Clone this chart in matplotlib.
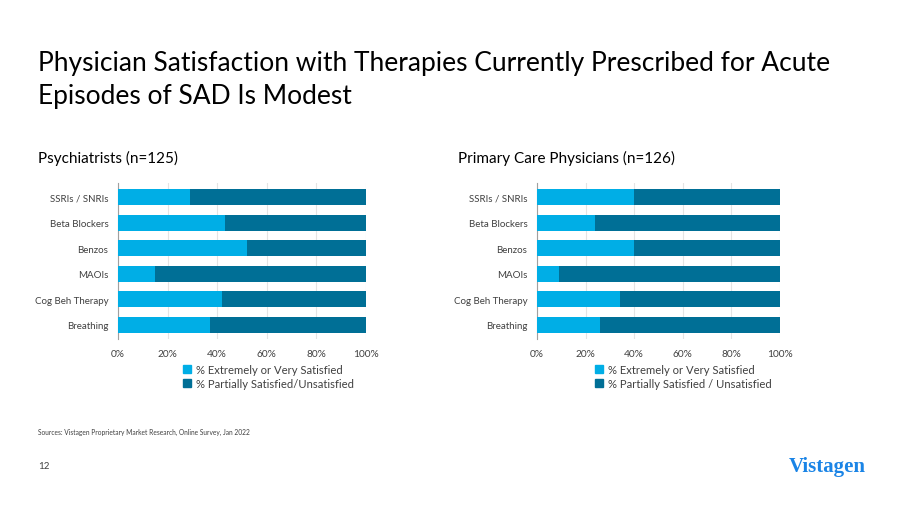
import numpy as np
import matplotlib
matplotlib.use("Agg")
import matplotlib.pyplot as plt
from matplotlib.patches import Patch

plt.rcParams['font.family'] = ['Lato', 'DejaVu Sans']

categories = ["SSRIs / SNRIs", "Beta Blockers", "Benzos", "MAOIs", "Cog Beh Therapy", "Breathing"]
psych_satisfied = [29, 43, 52, 15, 42, 37]
pcp_satisfied = [40, 24, 40, 9, 34, 26]
psych_partial = [100 - v for v in psych_satisfied]
pcp_partial = [100 - v for v in pcp_satisfied]
xticks = [0, 20, 40, 60, 80, 100]

light = '#00aee6'
dark = '#006f96'
W, H = 900, 506

fig = plt.figure(figsize=(9, 5.06), dpi=100)
fig.patch.set_facecolor('white')


def px_axes(x0, y0, x1, y1):
    # pixel box (top-left origin) -> figure fraction
    return fig.add_axes([x0 / W, 1 - y1 / H, (x1 - x0) / W, (y1 - y0) / H])


def draw(ax, sat, part, leg_labels, leg_x):
    y = np.arange(len(categories))
    ax.barh(y, sat, height=0.62, color=light, zorder=3)
    ax.barh(y, part, left=sat, height=0.62, color=dark, zorder=3)
    ax.set_yticks(y)
    ax.set_yticklabels(categories, fontsize=7, color='#404040')
    ax.set_ylim(len(categories) - 0.5 + 0.05, -0.5 - 0.05)
    ax.set_xlim(0, 100)
    ax.set_xticks(xticks)
    ax.set_xticklabels([f"{t}%" for t in xticks], fontsize=7.3, color='#404040')
    ax.grid(axis='x', color='#e4e4e4', linewidth=0.8, zorder=0)
    for s in ['top', 'right', 'bottom']:
        ax.spines[s].set_visible(False)
    ax.spines['left'].set_color('#a0a0a0')
    ax.tick_params(length=0, pad=7)
    handles = [Patch(color=light), Patch(color=dark)]
    fig.legend(handles, leg_labels, loc='upper left',
               bbox_to_anchor=(leg_x / W, 1 - 357 / H), frameon=False,
               fontsize=8.1, handlelength=0.75, handleheight=0.75,
               handletextpad=0.45, labelspacing=0.3, labelcolor='#404040',
               borderpad=0.2)


ax1 = px_axes(118, 184, 366, 340)
draw(ax1, psych_satisfied, psych_partial,
     ["% Extremely or Very Satisfied", "% Partially Satisfied/Unsatisfied"], 175)

ax2 = px_axes(537, 184, 780, 340)
draw(ax2, pcp_satisfied, pcp_partial,
     ["% Extremely or Very Satisfied", "% Partially Satisfied / Unsatisfied"], 587)

fig.text(38 / W, 1 - 51 / H,
         "Physician Satisfaction with Therapies Currently Prescribed for Acute\nEpisodes of SAD Is Modest",
         fontsize=19, va='top', ha='left', color='black', linespacing=1.38)
fig.text(38 / W, 1 - 158 / H, "Psychiatrists (n=125)", fontsize=11, va='center', ha='left')
fig.text(458 / W, 1 - 158 / H, "Primary Care Physicians (n=126)", fontsize=11, va='center', ha='left')
fig.text(38 / W, 1 - 432 / H,
         "Sources: Vistagen Proprietary Market Research, Online Survey, Jan 2022",
         fontsize=4.8, va='center', ha='left', color='#404040')
fig.text(38 / W, 1 - 467 / H, "12", fontsize=7, va='center', ha='left', color='#404040')
fig.text(866 / W, 1 - 467 / H, "Vistagen", fontsize=15, va='center', ha='right',
         color='#1a84e6', family=['Liberation Serif'], weight='bold')

fig.savefig("out.png", dpi=100, facecolor='white')
